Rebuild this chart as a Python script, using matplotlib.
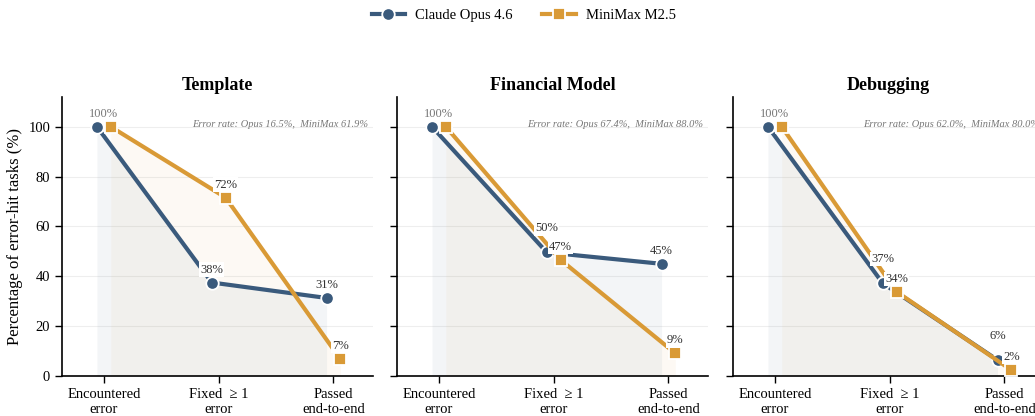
import matplotlib.pyplot as plt
import numpy as np

plt.rcParams['font.family'] = ['Liberation Serif', 'DejaVu Serif']

# --- Data ---
stages = ['Encountered\nerror', 'Fixed  \u2265 1\nerror', 'Passed\nend-to-end']
panels = ['Template', 'Financial Model', 'Debugging']

opus_vals = [
    [100, 37.5, 31.3],
    [100, 49.6, 45.0],
    [100, 37.2, 6.4],
]
minimax_vals = [
    [100, 71.6, 6.8],
    [100, 46.6, 9.1],
    [100, 33.8, 2.4],
]
opus_err = [16.5, 67.4, 62.0]
minimax_err = [61.9, 88.0, 80.0]

opus_color = '#3a5a7c'
mm_color = '#d99a36'
offset = 0.06

fig = plt.figure(figsize=(10.35, 4.16), dpi=100)
lefts = [0.0599, 0.3836, 0.7082]
axes = [fig.add_axes([l, 0.0962, 0.3005, 0.671]) for l in lefts]

x = np.arange(len(stages))
for i, ax in enumerate(axes):
    o = np.array(opus_vals[i])
    m = np.array(minimax_vals[i])
    xo = x - offset
    xm = x + offset

    ax.fill_between(xo, 0, o, color=opus_color, alpha=0.06, lw=0, zorder=1)
    ax.fill_between(xm, 0, m, color=mm_color, alpha=0.05, lw=0, zorder=1)

    ax.plot(xo, o, '-o', color=opus_color, lw=3, ms=9, mec='white', mew=1.3,
            label='Claude Opus 4.6', zorder=3)
    ax.plot(xm, m, '-s', color=mm_color, lw=3, ms=9, mec='white', mew=1.3,
            label='MiniMax M2.5', zorder=4)

    # value labels
    ax.annotate('100%', (0, 100), xytext=(0, 5), textcoords='offset points',
                ha='center', va='bottom', fontsize=9, color='#777777', zorder=6)
    for j in range(1, len(stages)):
        close = abs(o[j] - m[j]) < 6
        oy = 13 if close else 5
        ax.annotate(f'{round(o[j]):.0f}%', (xo[j], o[j]), xytext=(0, oy),
                    textcoords='offset points', ha='center', va='bottom',
                    fontsize=9, color='#333333', zorder=6,
                    bbox=dict(boxstyle='square,pad=0.1', fc='white', ec='none'))
        ax.annotate(f'{round(m[j]):.0f}%', (xm[j], m[j]), xytext=(0, 5),
                    textcoords='offset points', ha='center', va='bottom',
                    fontsize=9, color='#333333', zorder=6,
                    bbox=dict(boxstyle='square,pad=0.1', fc='white', ec='none'))

    ax.text(0.985, 0.90, f'Error rate: Opus {opus_err[i]:.1f}%,  MiniMax {minimax_err[i]:.1f}%',
            transform=ax.transAxes, ha='right', va='center', fontsize=7.5,
            style='italic', color='#777777')

    ax.set_title(panels[i], fontsize=13, fontweight='bold', pad=5)
    ax.set_xlim(-0.365, 2.345)
    ax.set_ylim(0, 112)
    ax.set_xticks(x)
    ax.set_xticklabels(stages, fontsize=10.5)
    ax.set_yticks(np.arange(0, 101, 20))
    ax.tick_params(axis='both', labelsize=10.5, length=5, width=1)
    if i > 0:
        ax.set_yticklabels([])
    ax.grid(axis='y', color='#eeeeee', lw=0.8)
    ax.set_axisbelow(True)
    for s in ['top', 'right']:
        ax.spines[s].set_visible(False)
    for s in ['left', 'bottom']:
        ax.spines[s].set_linewidth(1.2)

axes[0].set_ylabel('Percentage of error-hit tasks (%)', fontsize=12)

handles, labels = axes[0].get_legend_handles_labels()
fig.legend(handles, labels, loc='upper center', bbox_to_anchor=(0.506, 1.01),
           ncol=2, frameon=False, fontsize=10.5, handlelength=2.3,
           handletextpad=0.7, columnspacing=2.0)

fig.savefig('out.png', dpi=100)
